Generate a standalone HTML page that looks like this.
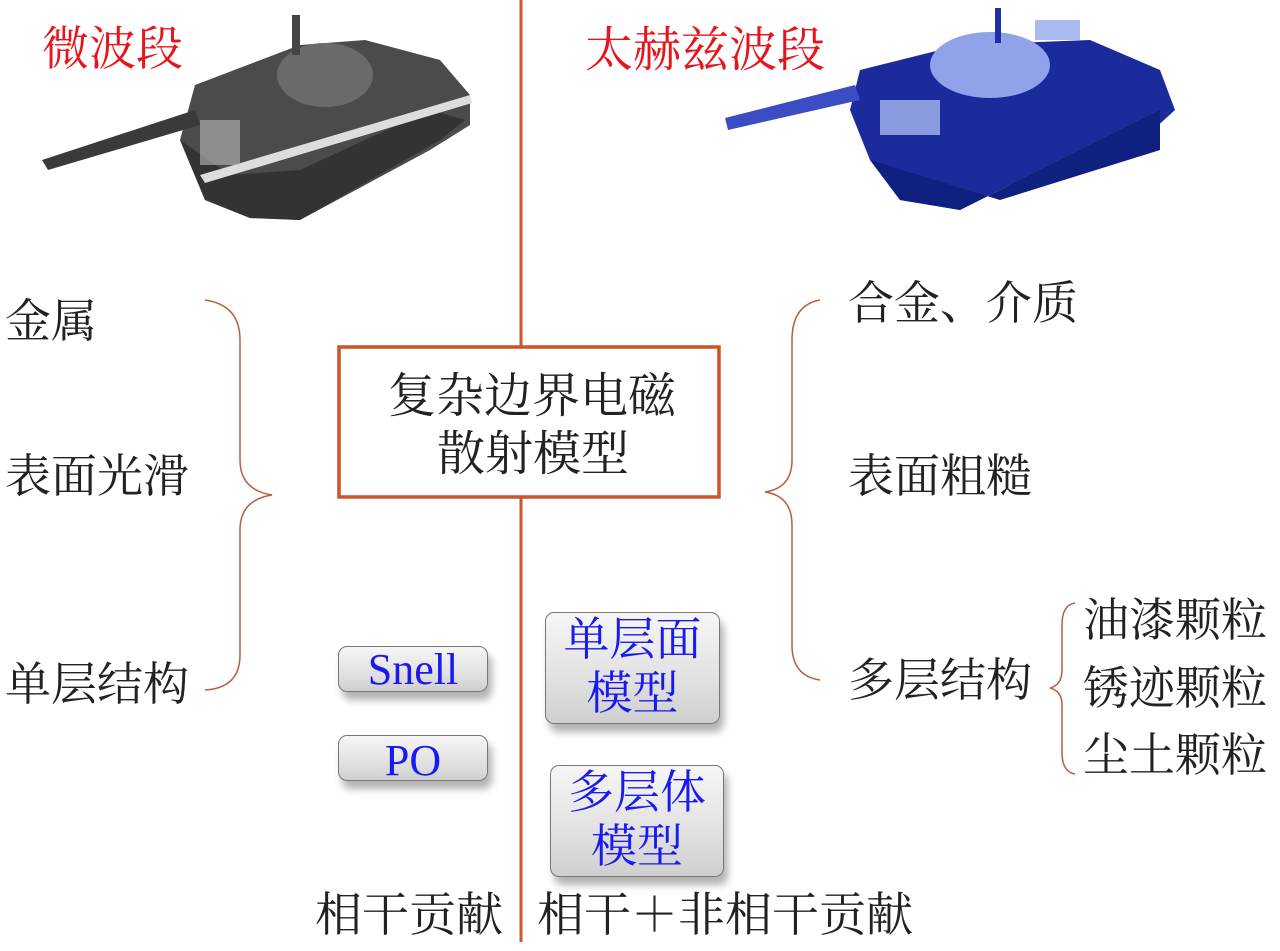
<!DOCTYPE html>
<html><head><meta charset="utf-8"><style>
html,body{margin:0;padding:0;background:#fff;}
#c{position:relative;width:1280px;height:951px;overflow:hidden;font-family:"Liberation Serif","Noto Serif CJK SC",serif;color:#222;}
.t{position:absolute;white-space:nowrap;line-height:1;font-size:46px;}
.red{color:#e8141c;}
.btn{position:absolute;border:1.5px solid #777;border-radius:9px;background:linear-gradient(#f6f6f6,#e2e1e1 60%,#cfcfcf);box-shadow:4px 8px 8px rgba(0,0,0,0.3);color:#1a1aee;text-align:center;line-height:1;}
</style></head><body><div id="c">
<svg width="1280" height="951" style="position:absolute;left:0;top:0">
<line x1="521" y1="0" x2="521" y2="942" stroke="#c9582e" stroke-width="3"/>
<rect x="339" y="347" width="380" height="150" fill="#fff" stroke="#cb5428" stroke-width="3.5"/>
<g fill="none" stroke="#b8603e" stroke-width="1.5">
<path d="M205,300 Q240,305 240,340 L240,460 Q240,490 272,495 Q240,500 240,530 L240,655 Q240,688 205,690"/>
<path d="M820,300 Q792,305 792,340 L792,460 Q792,488 765,492 Q792,496 792,525 L792,645 Q792,676 820,680"/>
<path d="M1075,603 Q1062,605 1062,625 L1062,670 Q1062,685 1050,688 Q1062,691 1062,705 L1062,752 Q1062,772 1075,774"/>
</g>
<g>
<polygon points="195,85 300,45 365,40 440,60 470,95 470,125 430,150 300,220 250,218 205,200 180,140" fill="#4b4b4b"/>
<polygon points="180,140 205,200 250,218 300,220 440,140 465,120 430,110 300,170 230,175" fill="#333"/>
<polygon points="42,160 48,170 200,125 195,110" fill="#3a3a3a"/>
<ellipse cx="325" cy="75" rx="48" ry="32" fill="#6a6a6a"/>
<polygon points="200,175 470,95 472,103 205,183" fill="#ddd"/>
<rect x="200" y="120" width="40" height="45" fill="#bbb" opacity="0.6"/>
<rect x="292" y="15" width="8" height="40" fill="#444"/>
</g>
<g>
<polygon points="860,70 960,45 1090,40 1160,70 1175,110 1120,160 1010,185 960,210 900,200 870,160 850,110" fill="#1c2b9c"/>
<polygon points="870,160 900,200 960,210 1010,185 1160,110 1160,150 1000,200" fill="#102080"/>
<polygon points="725,118 728,130 860,100 855,85" fill="#3b4dc4"/>
<ellipse cx="990" cy="65" rx="60" ry="33" fill="#8fa2ea"/>
<rect x="880" y="100" width="60" height="35" fill="#a8b8f0" opacity="0.8"/>
<rect x="1035" y="20" width="45" height="20" fill="#aab9f0"/>
<rect x="995" y="8" width="6" height="35" fill="#2030a0"/>
</g>
</svg>
<div class="t red" style="left:42px;top:27px;font-size:47px">微波段</div>
<div class="t red" style="left:585px;top:27px;font-size:48px">太赫兹波段</div>
<div class="t" style="left:5px;top:299px">金属</div>
<div class="t" style="left:5px;top:454px">表面光滑</div>
<div class="t" style="left:5px;top:662px">单层结构</div>
<div class="t" style="left:388px;top:373px;font-size:48px">复杂边界电磁</div>
<div class="t" style="left:437px;top:431px;font-size:48px">散射模型</div>
<div class="t" style="left:848px;top:281px">合金、介质</div>
<div class="t" style="left:848px;top:454px">表面粗糙</div>
<div class="t" style="left:848px;top:658px">多层结构</div>
<div class="t" style="left:1083px;top:598px">油漆颗粒</div>
<div class="t" style="left:1083px;top:666px">锈迹颗粒</div>
<div class="t" style="left:1083px;top:733px">尘土颗粒</div>
<div class="t" style="left:315px;top:893px;font-size:47px">相干贡献</div>
<div class="t" style="left:537px;top:893px;font-size:47px">相干＋非相干贡献</div>
<div class="btn" style="left:338px;top:646px;width:148px;height:44px;font-size:44px;line-height:46px">Snell</div>
<div class="btn" style="left:338px;top:735px;width:148px;height:44px;font-size:44px;line-height:50px">PO</div>
<div class="btn" style="left:545px;top:612px;width:173px;height:110px;font-size:46px;line-height:54px">单层面<br>模型</div>
<div class="btn" style="left:550px;top:765px;width:172px;height:110px;font-size:46px;line-height:54px">多层体<br>模型</div>
</div></body></html>
